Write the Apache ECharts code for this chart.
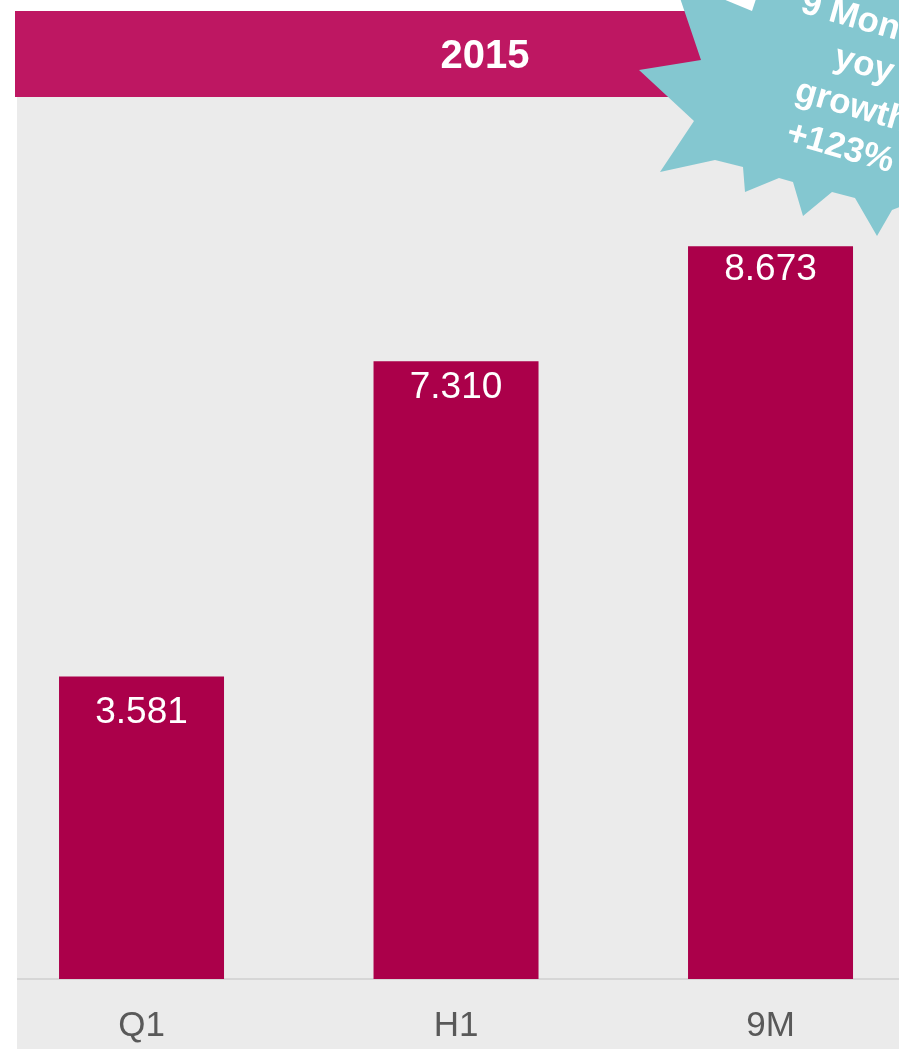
<!DOCTYPE html>
<html>
<head>
<meta charset="utf-8">
<title>2015</title>
<script src="https://cdn.jsdelivr.net/npm/echarts@6/dist/echarts.min.js"></script>
<style>
  html, body { margin: 0; padding: 0; background: #ffffff; }
  #chart { width: 899px; height: 1049px; }
</style>
</head>
<body>
<div id="chart"></div>
<script>
// Cumulative results, 2015
const periods = ['Q1', 'H1', '9M'];
const values = [3.581, 7.310, 8.673];
const valueLabels = ['3.581', '7.310', '8.673'];
const headerTitle = '2015';
const badgeLines = ['9 Months', 'yoy', 'growth', '+123%'];

const BAR = '#AB004A';
const HEADER = '#BE1762';
const PANEL = '#EBEBEB';
const TEAL = '#84C7D0';

// gap between each bar top and its value label
const labelGaps = [18, 8, 5];

const chart = echarts.init(document.getElementById('chart'), null, { renderer: 'canvas' });

// Starburst outline for the growth badge
const starPoints = [
  [680, -2], [701, 60], [639, 70], [694, 121], [660, 172], [715, 160],
  [743, 167], [745, 192], [779, 178], [793, 182], [803, 216], [832, 192],
  [855, 198], [877, 236], [892, 210], [905, 205], [905, -2]
];

// periods sit at positions 0, 1, 2 on a numeric x axis; the visible window
// runs a little past the outer bars on both sides
const barData = values.map((v, i) => ({
  value: [i, v],
  label: { distance: labelGaps[i] }
}));

chart.setOption({
  animation: false,
  backgroundColor: '#ffffff',
  grid: { left: 0, right: 0, top: 134, bottom: 70, containLabel: false },
  xAxis: {
    type: 'value',
    min: -0.45,
    max: 2.4085,
    axisLine: { show: true, onZero: false, lineStyle: { color: '#D6D6D6', width: 2 } },
    axisTick: { show: false },
    splitLine: { show: false },
    axisLabel: {
      customValues: [0, 1, 2],
      formatter: v => periods[Math.round(v)],
      color: '#595959',
      fontSize: 35,
      fontFamily: '"Liberation Sans", Arial, sans-serif',
      margin: 30
    }
  },
  yAxis: {
    type: 'value',
    min: 0,
    max: 10,
    show: false,
    splitLine: { show: false }
  },
  series: [{
    type: 'bar',
    data: barData,
    barWidth: 165,
    itemStyle: { color: BAR },
    z: 3,
    label: {
      show: true,
      position: 'insideTop',
      distance: 5,
      color: '#ffffff',
      fontSize: 37,
      fontFamily: '"Liberation Sans", Arial, sans-serif',
      formatter: p => valueLabels[p.dataIndex]
    }
  }],
  graphic: [
    // grey panel behind the plot
    { type: 'rect', z: -10, silent: true,
      shape: { x: 17, y: 97, width: 882, height: 952 },
      style: { fill: PANEL } },
    // white page margin on the left
    { type: 'rect', z: 100, silent: true,
      shape: { x: 0, y: 0, width: 15, height: 1049 },
      style: { fill: '#ffffff' } },
    { type: 'rect', z: 100, silent: true,
      shape: { x: 15, y: 97, width: 2, height: 952 },
      style: { fill: '#ffffff' } },
    // header band
    { type: 'rect', z: 10, silent: true,
      shape: { x: 15, y: 11, width: 900, height: 86 },
      style: { fill: HEADER } },
    { type: 'text', z: 11, silent: true,
      x: 485, y: 57,
      style: {
        text: headerTitle, fill: '#ffffff',
        font: 'bold 40px "Liberation Sans", Arial, sans-serif',
        align: 'center', verticalAlign: 'middle'
      } },
    // growth badge
    { type: 'polygon', z: 20, silent: true,
      shape: { points: starPoints },
      style: { fill: TEAL } },
    { type: 'polygon', z: 21, silent: true,
      shape: { points: [[723, -1], [752, 11], [756, -1]] },
      style: { fill: '#ffffff' } },
    { type: 'text', z: 22, silent: true,
      x: 858, y: 86, rotation: -16 * Math.PI / 180,
      style: {
        text: badgeLines.join('\n'), fill: '#ffffff',
        font: 'bold 35px "Liberation Sans", Arial, sans-serif',
        lineHeight: 43,
        align: 'center', verticalAlign: 'middle'
      } }
  ]
});
</script>
</body>
</html>
